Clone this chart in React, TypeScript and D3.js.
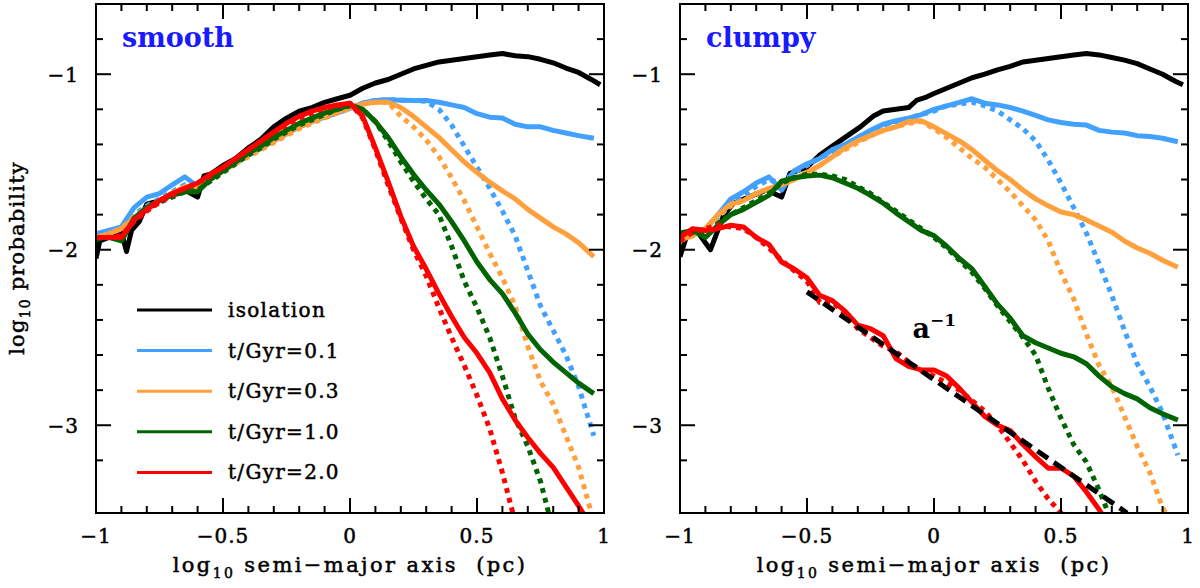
import React from "react";
import * as d3 from "d3";

// ---------- data ----------
const GRID = [-1, -0.95, -0.9, -0.85, -0.8, -0.75, -0.7, -0.65, -0.6, -0.55, -0.5, -0.45, -0.4, -0.35, -0.3, -0.25, -0.2, -0.15, -0.1, -0.05, 0, 0.05, 0.1, 0.15, 0.2, 0.25, 0.3, 0.35, 0.4, 0.45, 0.5, 0.55, 0.6, 0.65, 0.7, 0.75, 0.8, 0.85, 0.9, 0.96];

const X_TICKS = [-1, -0.5, 0, 0.5, 1];
const X_TICK_LABELS = ["\u22121", "\u22120.5", "0", "0.5", "1"];
const Y_TICKS = [-3, -2, -1];
const Y_TICK_LABELS = ["\u22123", "\u22122", "\u22121"];

const LEGEND_LABELS = ["isolation", "t/Gyr=0.1", "t/Gyr=0.3", "t/Gyr=1.0", "t/Gyr=2.0"];
const COLORS = ["#000000", "#42a1ff", "#ffa03c", "#006400", "#ff0000"];
const PANEL_TITLES = ["smooth", "clumpy"];

// smooth panel
const S_BLACK_X = [-1, -0.985, -0.95, -0.9, -0.88, -0.86, -0.83, -0.8, -0.75, -0.7, -0.65, -0.6, -0.575, -0.55, -0.5, -0.45, -0.4, -0.35, -0.3, -0.25, -0.2, -0.15, -0.1, -0.05, 0, 0.05, 0.1, 0.15, 0.2, 0.25, 0.3, 0.35, 0.4, 0.45, 0.5, 0.55, 0.6, 0.65, 0.7, 0.75, 0.8, 0.85, 0.9, 0.95, 0.985];
const S_BLACK_Y = [-2.05, -1.95, -1.93, -1.90, -2.01, -1.89, -1.84, -1.74, -1.72, -1.68, -1.66, -1.70, -1.58, -1.57, -1.52, -1.48, -1.42, -1.37, -1.30, -1.25, -1.21, -1.19, -1.16, -1.14, -1.12, -1.08, -1.05, -1.03, -1.0, -0.97, -0.95, -0.93, -0.92, -0.91, -0.9, -0.89, -0.882, -0.895, -0.9, -0.915, -0.935, -0.965, -0.99, -1.03, -1.06];
const S_BLUE = [-1.91, -1.89, -1.87, -1.76, -1.70, -1.68, -1.63, -1.585, -1.64, -1.60, -1.55, -1.50, -1.46, -1.42, -1.38, -1.34, -1.30, -1.27, -1.245, -1.22, -1.195, -1.165, -1.15, -1.145, -1.148, -1.15, -1.15, -1.16, -1.175, -1.19, -1.225, -1.245, -1.25, -1.285, -1.30, -1.30, -1.32, -1.335, -1.35, -1.365];
const S_BLUE_D = [-1.92, -1.90, -1.88, -1.80, -1.75, -1.71, -1.67, -1.63, -1.63, -1.59, -1.55, -1.50, -1.46, -1.42, -1.38, -1.34, -1.30, -1.27, -1.245, -1.22, -1.195, -1.165, -1.15, -1.145, -1.148, -1.15, -1.155, -1.20, -1.29, -1.41, -1.53, -1.65, -1.78, -1.92, -2.12, -2.32, -2.46, -2.60, -2.78, -3.06];
const S_ORANGE = [-1.93, -1.91, -1.88, -1.82, -1.76, -1.72, -1.68, -1.64, -1.65, -1.60, -1.55, -1.50, -1.46, -1.42, -1.38, -1.34, -1.30, -1.27, -1.24, -1.215, -1.19, -1.17, -1.16, -1.16, -1.19, -1.24, -1.30, -1.36, -1.43, -1.50, -1.56, -1.615, -1.665, -1.71, -1.77, -1.82, -1.87, -1.91, -1.96, -2.04];
const S_ORANGE_D = [-1.93, -1.91, -1.88, -1.81, -1.76, -1.72, -1.68, -1.65, -1.64, -1.60, -1.55, -1.51, -1.47, -1.43, -1.39, -1.35, -1.31, -1.28, -1.25, -1.22, -1.195, -1.17, -1.16, -1.16, -1.24, -1.30, -1.375, -1.47, -1.59, -1.72, -1.87, -2.02, -2.16, -2.32, -2.55, -2.75, -2.88, -3.06, -3.24, -3.55];
const S_GREEN = [-1.93, -1.93, -1.95, -1.82, -1.76, -1.72, -1.69, -1.67, -1.67, -1.60, -1.55, -1.50, -1.45, -1.41, -1.36, -1.32, -1.28, -1.25, -1.22, -1.20, -1.175, -1.20, -1.27, -1.36, -1.47, -1.57, -1.66, -1.74, -1.84, -1.95, -2.07, -2.17, -2.25, -2.36, -2.48, -2.57, -2.64, -2.70, -2.76, -2.82];
const S_GREEN_D = [-1.94, -1.93, -1.93, -1.83, -1.77, -1.73, -1.70, -1.67, -1.66, -1.61, -1.56, -1.51, -1.46, -1.42, -1.37, -1.33, -1.29, -1.26, -1.23, -1.20, -1.18, -1.20, -1.27, -1.38, -1.50, -1.61, -1.71, -1.80, -1.98, -2.18, -2.33, -2.50, -2.72, -2.96, -3.12, -3.32, -3.60, null, null, null];
const S_RED = [-1.93, -1.93, -1.93, -1.83, -1.77, -1.72, -1.68, -1.65, -1.62, -1.57, -1.53, -1.48, -1.43, -1.38, -1.33, -1.28, -1.24, -1.21, -1.19, -1.175, -1.165, -1.24, -1.42, -1.61, -1.81, -1.98, -2.11, -2.25, -2.38, -2.50, -2.59, -2.70, -2.85, -2.97, -3.07, -3.16, -3.24, -3.35, -3.46, -3.60];
const S_RED_D = [-1.93, -1.93, -1.92, -1.84, -1.78, -1.73, -1.69, -1.65, -1.62, -1.58, -1.53, -1.48, -1.43, -1.38, -1.33, -1.29, -1.25, -1.22, -1.195, -1.18, -1.165, -1.25, -1.43, -1.63, -1.82, -2.0, -2.15, -2.33, -2.50, -2.66, -2.83, -3.02, -3.27, -3.55, null, null, null, null, null, null];

// clumpy panel
const C_BLACK_X = [-1, -0.97, -0.935, -0.88, -0.83, -0.79, -0.73, -0.66, -0.6, -0.567, -0.5, -0.45, -0.4, -0.35, -0.29, -0.24, -0.2, -0.15, -0.1, -0.067, -0.03, 0, 0.05, 0.1, 0.15, 0.2, 0.25, 0.3, 0.35, 0.4, 0.45, 0.5, 0.55, 0.6, 0.65, 0.7, 0.75, 0.8, 0.85, 0.9, 0.95, 0.98];
const C_BLACK_Y = [-2.04, -1.905, -1.89, -2.0, -1.81, -1.735, -1.70, -1.66, -1.70, -1.565, -1.53, -1.46, -1.41, -1.36, -1.30, -1.24, -1.21, -1.20, -1.19, -1.147, -1.13, -1.11, -1.08, -1.05, -1.02, -1.0, -0.975, -0.955, -0.93, -0.92, -0.91, -0.9, -0.89, -0.882, -0.89, -0.905, -0.92, -0.94, -0.97, -1.0, -1.04, -1.06];
const C_BLUE = [-1.93, -1.90, -1.88, -1.80, -1.71, -1.67, -1.62, -1.585, -1.66, -1.55, -1.51, -1.48, -1.43, -1.40, -1.36, -1.32, -1.285, -1.265, -1.25, -1.23, -1.20, -1.18, -1.16, -1.14, -1.165, -1.175, -1.19, -1.21, -1.235, -1.26, -1.275, -1.285, -1.29, -1.32, -1.33, -1.335, -1.35, -1.355, -1.365, -1.385];
const C_BLUE_D = [-1.94, -1.91, -1.88, -1.82, -1.74, -1.69, -1.64, -1.60, -1.62, -1.56, -1.52, -1.48, -1.44, -1.40, -1.36, -1.32, -1.29, -1.27, -1.25, -1.23, -1.21, -1.18, -1.17, -1.16, -1.18, -1.21, -1.26, -1.31, -1.38, -1.49, -1.62, -1.76, -1.905, -2.08, -2.26, -2.46, -2.65, -2.78, -2.93, -3.17];
const C_ORANGE = [-1.945, -1.92, -1.88, -1.80, -1.74, -1.72, -1.68, -1.65, -1.63, -1.60, -1.56, -1.52, -1.47, -1.42, -1.38, -1.35, -1.32, -1.30, -1.27, -1.265, -1.30, -1.34, -1.38, -1.43, -1.49, -1.55, -1.60, -1.66, -1.71, -1.75, -1.785, -1.80, -1.83, -1.865, -1.90, -1.95, -1.99, -2.02, -2.06, -2.10];
const C_ORANGE_D = [-1.95, -1.92, -1.89, -1.81, -1.75, -1.72, -1.68, -1.66, -1.63, -1.60, -1.56, -1.52, -1.47, -1.43, -1.39, -1.35, -1.32, -1.30, -1.28, -1.27, -1.31, -1.36, -1.42, -1.48, -1.53, -1.60, -1.67, -1.75, -1.83, -1.95, -2.13, -2.28, -2.48, -2.66, -2.78, -2.95, -3.12, -3.27, -3.47, -3.62];
const C_GREEN = [-1.905, -1.89, -1.93, -1.86, -1.80, -1.77, -1.73, -1.69, -1.61, -1.59, -1.58, -1.575, -1.59, -1.62, -1.65, -1.69, -1.735, -1.79, -1.84, -1.89, -1.92, -1.98, -2.05, -2.11, -2.21, -2.31, -2.39, -2.49, -2.53, -2.56, -2.59, -2.61, -2.65, -2.72, -2.78, -2.82, -2.85, -2.90, -2.935, -2.97];
const C_GREEN_D = [-1.92, -1.90, -1.91, -1.85, -1.80, -1.76, -1.72, -1.68, -1.62, -1.59, -1.57, -1.57, -1.58, -1.60, -1.64, -1.68, -1.73, -1.78, -1.83, -1.88, -1.93, -1.99, -2.06, -2.13, -2.22, -2.32, -2.41, -2.50, -2.60, -2.79, -2.96, -3.11, -3.21, -3.37, -3.55, null, null, null, null, null];
const C_RED = [-1.93, -1.88, -1.89, -1.88, -1.86, -1.87, -1.93, -1.97, -2.07, -2.11, -2.16, -2.26, -2.29, -2.35, -2.43, -2.45, -2.49, -2.62, -2.665, -2.685, -2.685, -2.72, -2.79, -2.87, -2.95, -3.0, -3.03, -3.11, -3.18, -3.245, -3.245, -3.29, -3.38, -3.48, -3.60, null, null, null, null, null];
const C_RED_D = [-1.95, -1.90, -1.88, -1.86, -1.87, -1.88, -1.93, -1.99, -2.06, -2.12, -2.18, -2.30, -2.30, -2.36, -2.45, -2.50, -2.55, -2.58, -2.64, -2.69, -2.72, -2.76, -2.80, -2.86, -2.92, -3.0, -3.10, -3.20, -3.32, -3.42, -3.50, -3.60, null, null, null, null, null, null, null, null];

// a^-1 reference line (clumpy panel)
const SLOPE_X = [-0.5, 0.76];
const SLOPE_Y = [-2.24, -3.50];

// ---------- layout ----------
const FONT = "'DejaVu Serif', serif";
const PW = 508;
const PT = 4;
const PB = 513;
const PANEL_LEFT = [96, 680];
const TXT = { stroke: "#000", strokeWidth: 0.5 };

type Pt = [number, number | null];
type Series = { x: number[]; y: (number | null)[]; color: string; dotted: boolean };

function buildSeries(black: [number[], number[]], arr: (number | null)[][]): Series[] {
  const out: Series[] = [{ x: black[0], y: black[1], color: COLORS[0], dotted: false }];
  for (let c = 0; c < 4; c++) {
    out.push({ x: GRID, y: arr[c * 2 + 1], color: COLORS[c + 1], dotted: true });
    out.push({ x: GRID, y: arr[c * 2], color: COLORS[c + 1], dotted: false });
  }
  return out;
}

const SMOOTH = buildSeries([S_BLACK_X, S_BLACK_Y], [S_BLUE, S_BLUE_D, S_ORANGE, S_ORANGE_D, S_GREEN, S_GREEN_D, S_RED, S_RED_D]);
const CLUMPY = buildSeries([C_BLACK_X, C_BLACK_Y], [C_BLUE, C_BLUE_D, C_ORANGE, C_ORANGE_D, C_GREEN, C_GREEN_D, C_RED, C_RED_D]);

function Panel({ idx, series, legend, slope }: { idx: number; series: Series[]; legend: boolean; slope: boolean }) {
  const x0 = PANEL_LEFT[idx];
  const xs = d3.scaleLinear().domain([-1, 1]).range([x0, x0 + PW]);
  const ys = d3.scaleLinear().domain([-3.5, -0.6]).range([PB, PT]);
  const line = d3
    .line<Pt>()
    .defined((d) => d[1] != null)
    .x((d) => xs(d[0]))
    .y((d) => ys(d[1] as number));
  const minorX = d3.range(0, 21).map((i) => -1 + i * 0.1);
  const minorY = d3.range(1, 15).map((i) => -3.4 + i * 0.2);
  const clipId = "clip" + idx;
  const x1 = x0 + PW;
  return (
    <g>
      <defs>
        <clipPath id={clipId}>
          <rect x={x0} y={PT} width={PW} height={PB - PT} />
        </clipPath>
      </defs>
      <g clipPath={`url(#${clipId})`}>
        {series.map((s, i) => (
          <path
            key={i}
            d={line(s.x.map((v, j) => [v, s.y[j]] as Pt)) || ""}
            fill="none"
            stroke={s.color}
            strokeWidth={5}
            strokeDasharray={s.dotted ? "5 5" : undefined}
            strokeLinejoin="round"
          />
        ))}
        {slope && (
          <path
            d={line(SLOPE_X.map((v, j) => [v, SLOPE_Y[j]] as Pt)) || ""}
            fill="none"
            stroke="#000"
            strokeWidth={5}
            strokeDasharray="13 7"
          />
        )}
      </g>
      <rect x={x0} y={PT} width={PW} height={PB - PT} fill="none" stroke="#000" strokeWidth={2} />
      {minorX.map((v, i) => {
        const major = X_TICKS.some((t) => Math.abs(t - v) < 1e-6);
        const len = major ? 15 : 7;
        return (
          <g key={"xt" + i} stroke="#000" strokeWidth={2}>
            <line x1={xs(v)} x2={xs(v)} y1={PB} y2={PB - len} />
            <line x1={xs(v)} x2={xs(v)} y1={PT} y2={PT + len} />
          </g>
        );
      })}
      {minorY.map((v, i) => {
        const major = Y_TICKS.some((t) => Math.abs(t - v) < 1e-6);
        const len = major ? 15 : 7;
        return (
          <g key={"yt" + i} stroke="#000" strokeWidth={2}>
            <line x1={x0} x2={x0 + len} y1={ys(v)} y2={ys(v)} />
            <line x1={x1} x2={x1 - len} y1={ys(v)} y2={ys(v)} />
          </g>
        );
      })}
      {X_TICKS.map((t, i) => (
        <text key={"xl" + i} x={xs(t)} y={543} fontSize={20} textAnchor="middle" letterSpacing={1} {...TXT}>
          {X_TICK_LABELS[i]}
        </text>
      ))}
      {Y_TICKS.map((t, i) => (
        <text key={"yl" + i} x={x0 - 17} y={ys(t) + 7.5} fontSize={20} textAnchor="end" letterSpacing={1} {...TXT}>
          {Y_TICK_LABELS[i]}
        </text>
      ))}
      <text x={xs(0)} y={572} fontSize={21} textAnchor="middle" letterSpacing={2.4} {...TXT}>
        log<tspan dy={6} fontSize={14}>10</tspan>
        <tspan dy={-6}> semi{"\u2212"}major axis {"\u00a0"}(pc)</tspan>
      </text>
      <text x={x0 + 26} y={47} fontSize={27} fontWeight="bold" fill="#1a1aff">
        {PANEL_TITLES[idx]}
      </text>
      {legend &&
        LEGEND_LABELS.map((lab, i) => {
          const ly = 310 + i * 40.6;
          return (
            <g key={"lg" + i}>
              <line x1={x0 + 41} x2={x0 + 116} y1={ly} y2={ly} stroke={COLORS[i]} strokeWidth={3} />
              <text x={x0 + 132} y={ly + 7} fontSize={20} letterSpacing={1.3} {...TXT}>
                {lab}
              </text>
            </g>
          );
        })}
      {slope && (
        <text x={xs(-0.1) + 4} y={338} fontSize={27} fontWeight="bold">
          a<tspan dy={-12} fontSize={17}>{"\u22121"}</tspan>
        </text>
      )}
    </g>
  );
}

export default function App() {
  return (
    <svg
      width={1200}
      height={588}
      style={{ position: "absolute", left: 0, top: 0, background: "#fff" }}
      fontFamily={FONT}
    >
      <rect width={1200} height={588} fill="#fff" />
      <text transform="translate(24,258) rotate(-90)" fontSize={21} textAnchor="middle" letterSpacing={1.2} {...TXT}>
        log<tspan dy={6} fontSize={14}>10</tspan>
        <tspan dy={-6}> probability</tspan>
      </text>
      <Panel idx={0} series={SMOOTH} legend={true} slope={false} />
      <Panel idx={1} series={CLUMPY} legend={false} slope={true} />
    </svg>
  );
}
